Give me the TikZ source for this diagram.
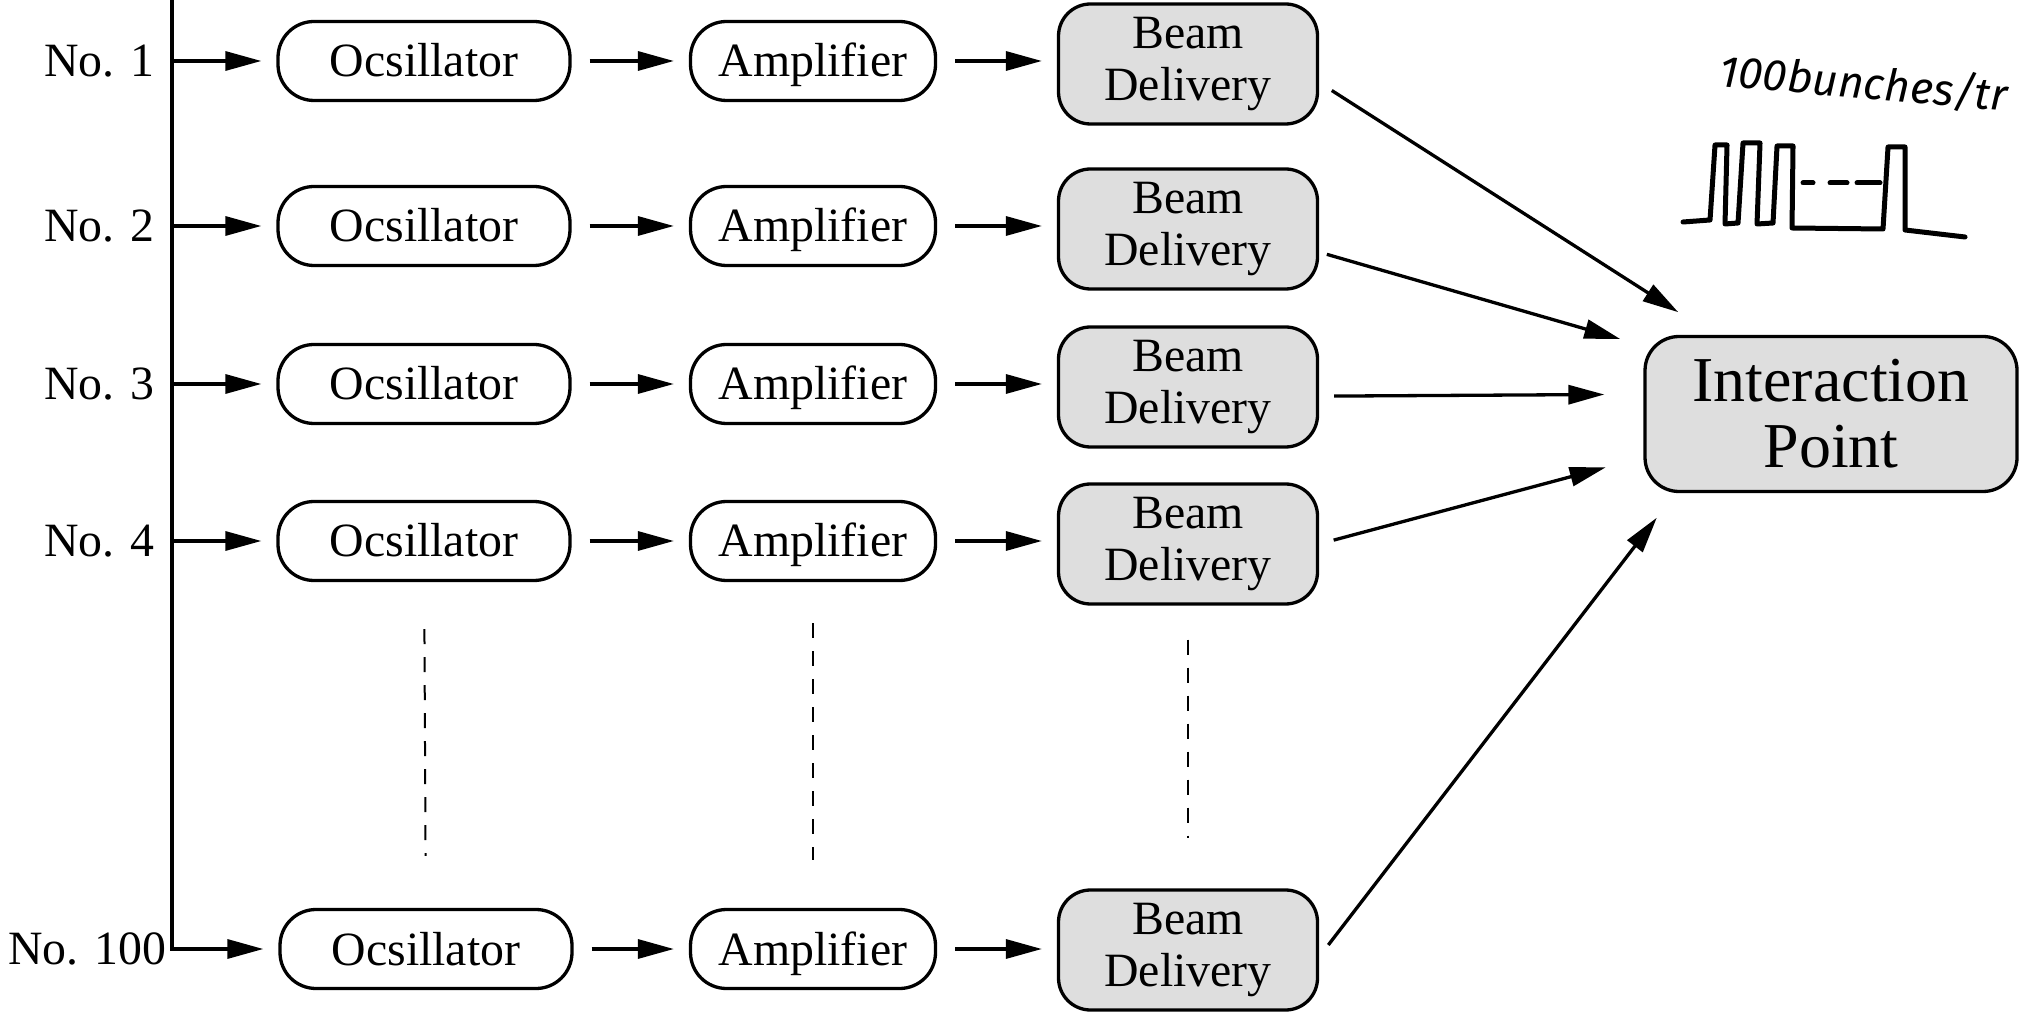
\documentclass[tikz,border=0pt]{standalone}
\usepackage{fontspec}
\setmainfont{Liberation Serif}
\newfontfamily\handfont{Fira Sans}
\usetikzlibrary{arrows.meta}

\tikzset{
  flow/.style={line width=0.33mm, -{Triangle[length=3.6mm,width=1.9mm]}, shorten <=1.8mm, shorten >=1.5mm},
  pill/.style={draw, line width=0.33mm, rounded corners=3.6mm, minimum height=7.9mm, inner sep=0pt, text height=3.2mm, text depth=0pt, font=\fontsize{13.6}{14.8}\selectfont},
  oscbox/.style={pill, minimum width=29.2mm},
  ampbox/.style={pill, minimum width=24.5mm},
  beambox/.style={draw, line width=0.33mm, rounded corners=3.2mm, fill=black!13, minimum width=25.9mm, minimum height=12mm, inner sep=0pt, align=center, font=\fontsize{13.6}{14.6}\selectfont},
  lbl/.style={anchor=east, inner sep=0pt, font=\fontsize{13.6}{14.8}\selectfont},
  vdash/.style={line width=0.2mm, dash pattern=on 1.5mm off 1.3mm},
}

\begin{document}
\begin{tikzpicture}[x=0.1mm,y=0.1mm,yscale=-1]
\clip (0,0) rectangle (2031,1013);

% channel labels
\node[lbl] (no1) at (155,61) {No. 1};
\node[lbl] (no2) at (155,226) {No. 2};
\node[lbl] (no3) at (155,384) {No. 3};
\node[lbl] (no4) at (155,541) {No. 4};
\node[lbl] (no100) at (167,949) {No. 100};

% oscillators
\node[oscbox] (osc1) at (424,61) {Ocsillator};
\node[oscbox] (osc2) at (424,226) {Ocsillator};
\node[oscbox] (osc3) at (424,384) {Ocsillator};
\node[oscbox] (osc4) at (424,541) {Ocsillator};
\node[oscbox] (osc100) at (426,949) {Ocsillator};

% amplifiers
\node[ampbox] (amp1) at (813,61) {Amplifier};
\node[ampbox] (amp2) at (813,226) {Amplifier};
\node[ampbox] (amp3) at (813,384) {Amplifier};
\node[ampbox] (amp4) at (813,541) {Amplifier};
\node[ampbox] (amp100) at (813,949) {Amplifier};

% beam delivery
\node[beambox] (bd1) at (1188,64) {Beam\\Delivery};
\node[beambox] (bd2) at (1188,229) {Beam\\Delivery};
\node[beambox] (bd3) at (1188,387) {Beam\\Delivery};
\node[beambox] (bd4) at (1188,544) {Beam\\Delivery};
\node[beambox] (bd100) at (1188,950) {Beam\\Delivery};

% interaction point
\node[beambox, minimum width=37.2mm, minimum height=15.5mm, rounded corners=3.4mm, font=\fontsize{18.2}{18.8}\selectfont] (ip) at (1831,414) {Interaction\\Point};

% feed line
\coordinate (bus) at (172,0);
\draw[flow, shorten <=0pt] (bus) |- (osc100);
\draw[flow, shorten <=0pt] (bus |- osc1) -- (osc1);
\draw[flow, shorten <=0pt] (bus |- osc2) -- (osc2);
\draw[flow, shorten <=0pt] (bus |- osc3) -- (osc3);
\draw[flow, shorten <=0pt] (bus |- osc4) -- (osc4);

% chains
\draw[flow] (osc1) -- (amp1);
\draw[flow] (osc2) -- (amp2);
\draw[flow] (osc3) -- (amp3);
\draw[flow] (osc4) -- (amp4);
\draw[flow] (osc100) -- (amp100);
\draw[flow] (amp1) -- (amp1 -| bd1.west);
\draw[flow] (amp2) -- (amp2 -| bd2.west);
\draw[flow] (amp3) -- (amp3 -| bd3.west);
\draw[flow] (amp4) -- (amp4 -| bd4.west);
\draw[flow] (amp100) -- (amp100 -| bd100.west);

% to the interaction point
\draw[flow, shorten <=1.5mm, shorten >=4.2mm] (bd1.-8) -- (ip.146);
\draw[flow, shorten <=0.8mm, shorten >=2.4mm] (bd2.-10) -- (ip.160.7);
\draw[flow, shorten <=1.5mm, shorten >=3.9mm] (bd3.-4) -- (ip.174.2);
\draw[flow, shorten <=1.5mm, shorten >=3.9mm] (bd4.east) -- (ip.193.3);
\draw[flow, shorten <=1.5mm, shorten >=3.1mm] (bd100.-3) -- (ip.207.5);

% omitted channels
\draw[vdash, shorten <=4.7mm, shorten >=5.2mm] (osc4) -- (osc100);
\draw[vdash, shorten <=4.1mm, shorten >=4.8mm] (amp4) -- (amp100);
\draw[vdash, shorten <=3.4mm, shorten >=5.0mm] (bd4) -- (bd100);

% hand note
\node[anchor=base west, inner sep=0pt, rotate=-5, font=\handfont\itshape\fontsize{12.6}{12.6}\selectfont] (note) at (1718,86) {100bunches/tr};
\draw[line width=0.5mm, line join=round, line cap=round]
  (1683,222) -- (1710,220) -- (1715,145) -- (1727,145) -- (1725,224) -- (1738,223)
  -- (1743,143) -- (1760,143) -- (1757,224) -- (1773,223) -- (1777,146) -- (1793,146)
  -- (1792,228) -- (1883,229) -- (1888,147) -- (1905,147) -- (1905,230) -- (1965,237);
\draw[line width=0.5mm, line cap=round]
  (1803,183) -- (1813,183) (1830,183) -- (1847,183) (1857,183) -- (1880,183);

\end{tikzpicture}
\end{document}
